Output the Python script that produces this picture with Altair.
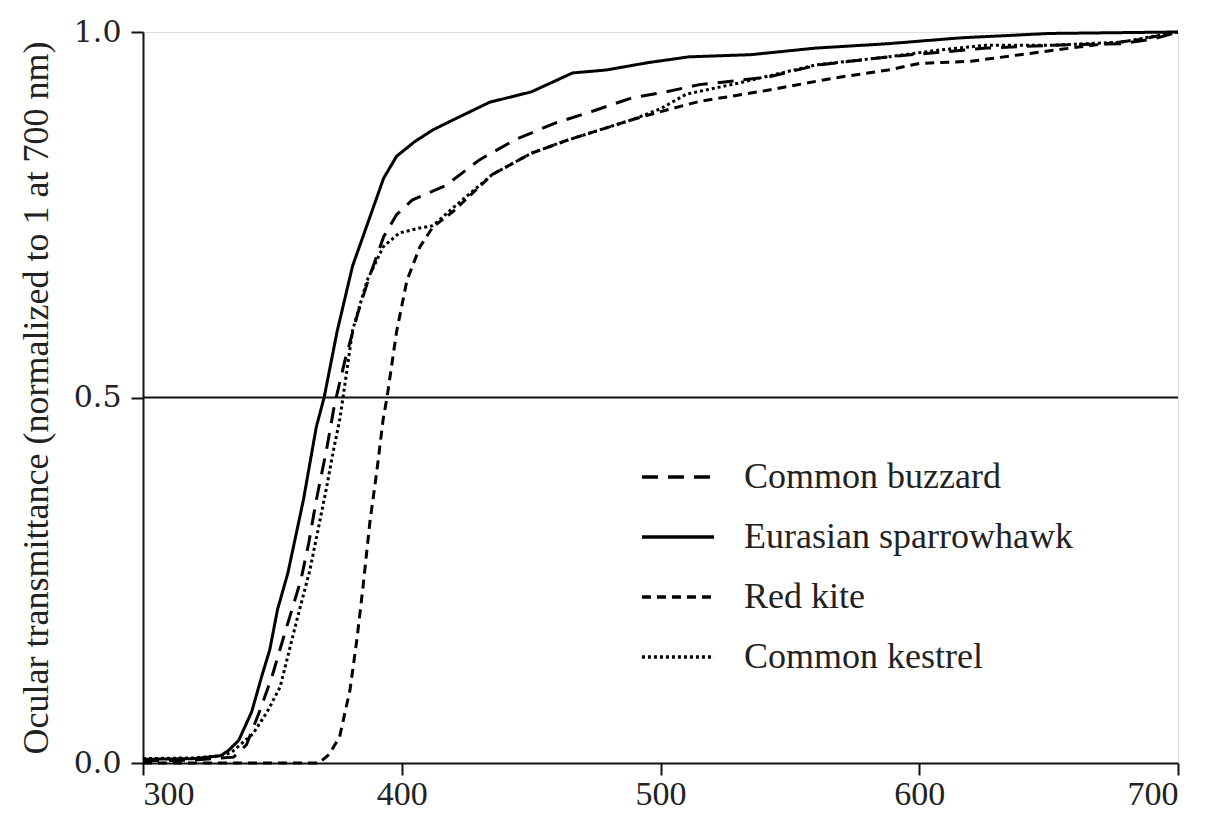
import altair as alt
import pandas as pd

species = ["Common buzzard", "Eurasian sparrowhawk", "Red kite", "Common kestrel"]

# Eurasian sparrowhawk (solid)
hawk_nm = [300, 320, 330, 333, 337, 342, 346, 349, 352, 356, 362, 367, 370, 375, 381, 388, 393, 398, 405, 412, 420, 434, 450, 466, 479, 495, 511, 535, 560, 588, 616, 650, 700]
hawk_t = [0.005, 0.006, 0.01, 0.017, 0.031, 0.07, 0.12, 0.155, 0.21, 0.26, 0.36, 0.46, 0.50, 0.59, 0.68, 0.75, 0.80, 0.83, 0.85, 0.866, 0.88, 0.904, 0.918, 0.944, 0.948, 0.958, 0.966, 0.969, 0.978, 0.984, 0.992, 0.998, 1.0]

# Common buzzard (long dash)
buzz_nm = [300, 320, 335, 340, 345, 350, 355, 361, 364, 367, 371, 374, 378, 383, 387, 393, 398, 404, 417, 430, 444, 459, 474, 489, 502, 515, 541, 561, 588, 607, 626, 652, 678, 690, 700]
buzz_t = [0.003, 0.004, 0.008, 0.025, 0.07, 0.12, 0.18, 0.25, 0.30, 0.36, 0.43, 0.49, 0.55, 0.615, 0.66, 0.72, 0.75, 0.77, 0.79, 0.825, 0.853, 0.875, 0.892, 0.91, 0.918, 0.928, 0.938, 0.955, 0.966, 0.972, 0.978, 0.982, 0.984, 0.99, 1.0]

# Red kite (short dash)
kite_nm = [300, 368, 372, 376, 380, 382.7, 385, 387.7, 390.4, 392.8, 394.3, 398, 402, 407, 412, 420, 435, 450, 464, 489, 502, 515, 541, 567, 588, 600, 620, 639, 665, 684, 700]
kite_t = [0.0, 0.0, 0.012, 0.036, 0.10, 0.17, 0.24, 0.33, 0.40, 0.47, 0.50, 0.59, 0.66, 0.706, 0.733, 0.755, 0.805, 0.834, 0.852, 0.88, 0.893, 0.905, 0.92, 0.937, 0.948, 0.957, 0.96, 0.969, 0.981, 0.989, 1.0]

# Common kestrel (dotted)
kes_nm = [300, 320, 330, 334, 342.5, 348, 353, 359.5, 364.5, 368.4, 371, 373.4, 376, 377.3, 381, 386.6, 392.8, 399, 407, 412, 420, 435, 450, 464, 489, 500, 510, 530, 560, 588, 607, 626, 652, 678, 700]
kes_t = [0.006, 0.007, 0.01, 0.014, 0.04, 0.07, 0.104, 0.196, 0.264, 0.332, 0.378, 0.424, 0.469, 0.50, 0.592, 0.66, 0.706, 0.725, 0.732, 0.735, 0.76, 0.805, 0.834, 0.852, 0.88, 0.895, 0.915, 0.93, 0.955, 0.966, 0.975, 0.982, 0.982, 0.986, 1.0]

x_ticks = [300, 400, 500, 600, 700]
y_ticks = [0.0, 0.5, 1.0]

rows = []
for name, xs, ys in [
    ("Common buzzard", buzz_nm, buzz_t),
    ("Eurasian sparrowhawk", hawk_nm, hawk_t),
    ("Red kite", kite_nm, kite_t),
    ("Common kestrel", kes_nm, kes_t),
]:
    for i, (a, b) in enumerate(zip(xs, ys)):
        rows.append({"species": name, "nm": a, "t": b, "order": i})
df = pd.DataFrame(rows)

FONT = "Liberation Serif"

x_enc = alt.X("nm:Q", scale=alt.Scale(domain=[300, 700], nice=False, zero=False),
              axis=alt.Axis(values=x_ticks, title=None, grid=False, format="d",
                            labelFont=FONT, labelFontSize=34, labelColor="#222",
                            labelPadding=2, tickSize=12, tickWidth=2, tickColor="#111",
                            domainColor="#111", domainWidth=2))
y_enc = alt.Y("t:Q", scale=alt.Scale(domain=[0, 1], nice=False),
              axis=alt.Axis(values=y_ticks, format=".1f", grid=False,
                            title="Ocular transmittance (normalized to 1 at 700 nm)",
                            titleFont=FONT, titleFontSize=36, titleFontWeight="normal",
                            titleColor="#222", titlePadding=18,
                            labelFont="DejaVu Serif", labelFontSize=30, labelColor="#222",
                            labelPadding=10, tickSize=12, tickWidth=2, tickColor="#111",
                            domainColor="#111", domainWidth=2))

lines = alt.Chart(df).mark_line(color="black", strokeWidth=3).encode(
    x=x_enc,
    y=y_enc,
    order="order:Q",
    strokeDash=alt.StrokeDash(
        "species:N",
        scale=alt.Scale(domain=species, range=[[16, 10], [1, 0], [9, 6], [3, 3]]),
        legend=alt.Legend(
            title=None, orient="none", legendX=497, legendY=407,
            symbolType="stroke", symbolSize=5200, symbolStrokeWidth=3.5,
            symbolStrokeColor="black", labelFont=FONT, labelFontSize=36,
            labelColor="#222", labelLimit=0, labelOffset=28, rowPadding=4,
        ),
    ),
)

half = alt.Chart(pd.DataFrame({"y": [0.5]})).mark_rule(color="#111", strokeWidth=2).encode(y="y:Q")

chart = alt.layer(lines, half).properties(
    width=1035, height=731,
    padding={"left": 135, "top": 24, "right": 20, "bottom": 50},
    autosize=alt.AutoSizeParams(type="none"),
).configure_view(stroke=None).configure(background="white")

chart.save("out.html", embed_options={"renderer": "svg", "actions": False})
